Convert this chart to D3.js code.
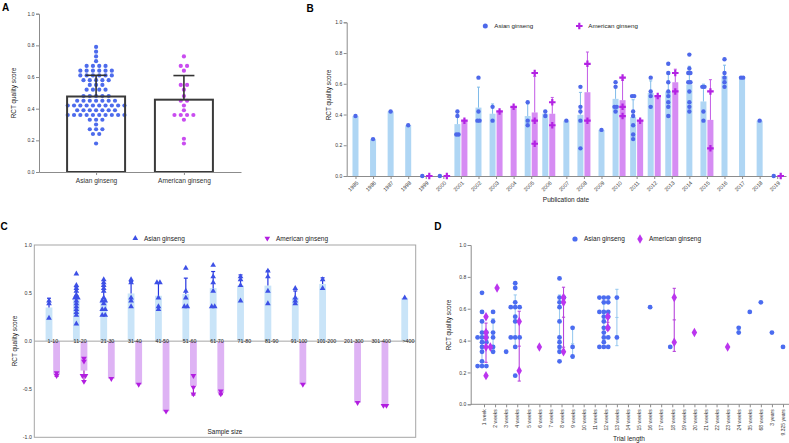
<!DOCTYPE html>
<html><head><meta charset="utf-8">
<script src="https://cdn.jsdelivr.net/npm/d3@7"></script>
<style>body{margin:0;background:#fff}svg{display:block}</style>
</head><body><svg id="c" width="789" height="443"></svg>
<script>
// ================= DATA =================
const ticksY = [0, 0.2, 0.4, 0.6, 0.8, 1.0];
const ticksC = [-1, -0.5, 0, 0.5, 1];

// Panel A
const groupsA = ["Asian ginseng", "American ginseng"];
const asianScoresA = [0.79,0.76,0.73,0.70,0.67,0.67,0.67,0.67,0.64,0.64,0.64,0.64,0.64,0.64,
  0.61,0.61,0.61,0.61,0.61,0.61,0.58,0.58,0.58,0.58,0.58,0.55,0.55,0.55,0.52,0.52,0.52,0.52,
  0.48,0.48,0.48,0.48,0.48,0.45,0.45,0.45,0.45,0.45,0.45,0.45,
  0.42,0.42,0.42,0.42,0.42,0.42,0.42,0.42,0.42,0.42,0.39,0.39,0.39,0.39,0.39,0.39,0.39,
  0.36,0.36,0.36,0.36,0.36,0.36,0.36,0.36,0.36,0.36,0.33,0.33,0.33,0.30,0.27,0.27,0.27,0.24,0.24,0.18];
const americanScoresA = [0.73,0.67,0.67,0.64,0.55,0.55,0.52,0.48,0.45,0.45,0.42,0.39,0.36,0.36,0.36,0.36,0.33,0.21,0.18];

// Panel B
const yearsB = ["1985","1986","1987","1998","1999","2000","2001","2002","2003","2004","2005","2006","2007",
  "2008","2009","2010","2011","2012","2013","2014","2015","2016","2017","2018","2019"];
const asianB = [[0.39],[0.24],[0.42],[0.33],[0],[0],[0.42,0.39,0.27,0.27],[0.64,0.42,0.36,0.36],[0.45,0.36],[],
  [0.48,0.36,0.33],[0.42,0.39],[0.36],[0.58,0.45,0.42,0.36,0.18],[0.30],[0.61,0.58,0.45,0.42,0.45],
  [0.52,0.52,0.42,0.39,0.33,0.27,0.24],[0.64,0.55,0.52,0.45],[0.73,0.67,0.61,0.55,0.52,0.48,0.45,0.39],
  [0.79,0.70,0.67,0.67,0.61,0.61,0.55,0.48,0.45,0.42],[0.58,0.58,0.42,0.36],[0.76,0.67,0.64,0.61,0.58],
  [0.64,0.64],[0.36],[0]];
const americanB = [[],[],[],[],[0],[0],[0.36],[],[0.42],[0.45],[0.67,0.36,0.21],[0.48,0.33],[],[0.73,0.36],[],
  [0.64,0.45,0.39],[0.36],[0.52],[0.67,0.55],[],[0.55,0.18],[],[],[],[0]];

// Panel C
const sizeC = ["1-10","11-20","21-30","31-40","41-50","51-60","61-70","71-80","81-90","91-100","101-200","201-300","301-400",">400"];
const asianC = [[0.42,0.39,0.24],[0.70,0.58,0.55,0.52,0.48,0.45,0.45,0.42,0.39,0.36,0.33,0.30,0.27,0.18],
  [0.64,0.61,0.58,0.55,0.52,0.45,0.42,0.42,0.39,0.33,0.33,0.27,0.27],[0.64,0.61,0.45,0.42,0.36],
  [0.61,0.61,0.45,0.36,0.33],[0.76,0.52,0.45,0.36,0.36],[0.79,0.67,0.61,0.52,0.36,0.36],[0.67,0.64,0.58,0.42],
  [0.73,0.67,0.52,0.39],[0.55,0.45,0.42,0.39],[0.64,0.55],[],[],[0.45]];
const americanC = [[0.36,0.33],[0.42,0.36,0.36,0.21,0.18],[0.39],[0.45],[0.73],[0.55,0.48,0.36],[0.55,0.52],
  [],[],[0.45],[],[0.64],[0.67,0.67],[]];

// Panel D
const lengthD = ["1 week","2 weeks","3 weeks","4 weeks","5 weeks","6 weeks","7 weeks","8 weeks","9 weeks","10 weeks",
  "11 weeks","12 weeks","13 weeks","14 weeks","15 weeks","16 weeks","17 weeks","18 weeks","19 weeks","20 weeks",
  "21 weeks","22 weeks","23 weeks","24 weeks","35 weeks","68 weeks","3 years","9.325 years"];
const asianD = [[0.70,0.58,0.52,0.45,0.45,0.42,0.42,0.42,0.39,0.39,0.36,0.33,0.27,0.24,0.24,0.24],
  [0.58,0.52,0.45,0.42,0.36,0.33],[0.33],[0.76,0.73,0.64,0.61,0.61,0.61,0.55,0.52,0.42,0.42,0.42,0.36,0.18],
  [],[],[],[0.79,0.67,0.67,0.64,0.61,0.52,0.42,0.39,0.36,0.33,0.27],[0.48,0.36,0.30],[],[],
  [0.67,0.67,0.67,0.64,0.64,0.58,0.58,0.58,0.55,0.55,0.52,0.48,0.48,0.45,0.42,0.42,0.39,0.36,0.36,0.36],
  [0.67,0.42],[],[],[0.61],[],[0.36],[],[],[],[],[],[0.48,0.45],[0.58],[0.64],[0.45],[0.36]];
const americanD = [[0.55,0.45,0.42,0.36,0.36,0.18],[0.73],[],[0.52,0.21],[],[0.36],[],[0.67,0.64,0.33],[],[],[],
  [0.55,0.48],[],[],[],[],[],[0.67,0.39],[],[0.45],[],[],[0.36],[],[],[],[],[]];

// ================= DRAWING =================
const FONT = '"Liberation Sans", Arial, Helvetica, sans-serif';
const AX = "#8c8c8c", TX = "#333";
const svg = d3.select("#c").attr("font-family", FONT);

function styleAxis(g, fs) {
  g.attr("font-family", FONT).attr("font-size", fs);
  g.select(".domain").attr("stroke", AX);
  g.selectAll(".tick line").attr("stroke", AX);
  g.selectAll(".tick text").attr("fill", TX);
}
function dupOffsets(vals, step) {
  const counts = new Map(), seen = new Map();
  vals.forEach(v => { const k = v.toFixed(2); counts.set(k, (counts.get(k) || 0) + 1); });
  return vals.map(v => { const k = v.toFixed(2); const i = seen.get(k) || 0; seen.set(k, i + 1); return (i - (counts.get(k) - 1) / 2) * step; });
}
function swarm(vals, y, r, step) {
  const placed = [];
  const cands = [0]; for (let i = 1; i < 14; i++) cands.push(i * step, -i * step);
  return vals.map(v => {
    const py = y(v); let off = 0;
    for (const o of cands) { if (placed.every(p => Math.hypot(p[0] - o, p[1] - py) >= 2 * r * 0.85)) { off = o; break; } }
    placed.push([off, py]); return off;
  });
}
const stats = vals => ({ m: vals.length ? d3.mean(vals) : 0, sd: vals.length > 1 ? d3.deviation(vals) : 0 });
function label(x, y, t, fs, opts = {}) {
  const e = svg.append("text").attr("x", x).attr("y", y).text(t).attr("font-size", fs).attr("fill", opts.fill || "#222");
  if (opts.bold) e.attr("font-weight", "bold");
  if (opts.anchor) e.attr("text-anchor", opts.anchor);
  if (opts.rot) e.attr("transform", `rotate(-90,${x},${y})`);
  return e;
}

// ---------- Panel A ----------
{
  const yA = d3.scaleLinear().domain([0, 1]).range([172, 13.7]);
  const xA = d3.scalePoint().domain(groupsA).range([39, 241]).padding(0.65);
  const bw = 58;
  const recs = groupsA.map((g, i) => { const vals = i ? americanScoresA : asianScoresA; return { g, vals, ...stats(vals), col: i ? "#c94cf0" : "#4d6bec" }; });
  const g = svg.append("g");
  g.selectAll("rect.f").data(recs).join("rect").attr("x", d => xA(d.g) - bw / 2).attr("width", bw)
    .attr("y", d => yA(d.m)).attr("height", d => yA(0) - yA(d.m)).attr("fill", "#fff");
  recs.forEach(r => {
    const off = dupOffsets(r.vals, 6.3);
    g.append("g").selectAll("circle").data(r.vals).join("circle")
      .attr("cx", (d, k) => xA(r.g) + off[k]).attr("cy", d => yA(d)).attr("r", 2.1).attr("fill", r.col);
  });
  g.selectAll("rect.s").data(recs).join("rect").attr("x", d => xA(d.g) - bw / 2).attr("width", bw)
    .attr("y", d => yA(d.m)).attr("height", d => yA(0) - yA(d.m)).attr("fill", "none").attr("stroke", "#3a3a3a").attr("stroke-width", 2);
  g.selectAll("line.e").data(recs).join("line").attr("x1", d => xA(d.g)).attr("x2", d => xA(d.g))
    .attr("y1", d => yA(d.m)).attr("y2", d => yA(d.m + d.sd)).attr("stroke", "#333").attr("stroke-width", 1.6);
  g.selectAll("line.c").data(recs).join("line").attr("x1", d => xA(d.g) - 10.5).attr("x2", d => xA(d.g) + 10.5)
    .attr("y1", d => yA(d.m + d.sd)).attr("y2", d => yA(d.m + d.sd)).attr("stroke", "#333").attr("stroke-width", 1.6);
  svg.append("g").attr("transform", "translate(39,0)")
    .call(d3.axisLeft(yA).tickValues(ticksY).tickFormat(d => d.toFixed(1)).tickSize(3).tickPadding(1.5)).call(styleAxis, 5);
  svg.append("g").attr("transform", "translate(0,172)")
    .call(d3.axisBottom(xA).tickSize(3).tickSizeOuter(0).tickPadding(3)).call(styleAxis, 6.6);
  label(16, 93, "RCT quality score", 6.4, { anchor: "middle", rot: true });
  label(2, 11, "A", 10, { bold: true, fill: "#000" });
}

// ---------- Panel B ----------
{
  const yB = d3.scaleLinear().domain([0, 1]).range([176, 22.3]);
  const xB = d3.scalePoint().domain(yearsB).range([346.7, 786]).padding(0.5);
  const bars = [], dots = [];
  yearsB.forEach((yr, i) => {
    const both = asianB[i].length > 0 && americanB[i].length > 0;
    [asianB[i], americanB[i]].forEach((vals, j) => {
      if (!vals.length) return;
      const cx = xB(yr) + (both ? (j ? 3.5 : -3.5) : 0);
      bars.push({ j, cx, ...stats(vals) });
      const off = dupOffsets(vals, 2.2);
      vals.forEach((v, k) => dots.push({ j, v, cx: cx + off[k] }));
    });
  });
  const barCol = ["#afd6f4", "#d68cf3"], errCol = ["#7fbbe9", "#c25ae6"], dotCol = ["#4d68ea", "#b322e3"];
  const g = svg.append("g");
  g.selectAll("rect").data(bars.filter(d => d.m > 0)).join("rect").attr("x", d => d.cx - 3).attr("width", 6)
    .attr("y", d => yB(d.m)).attr("height", d => yB(0) - yB(d.m)).attr("fill", d => barCol[d.j]);
  const eb = bars.filter(d => d.sd > 0);
  g.selectAll("line.e").data(eb).join("line").attr("x1", d => d.cx).attr("x2", d => d.cx)
    .attr("y1", d => yB(d.m)).attr("y2", d => yB(d.m + d.sd)).attr("stroke", d => errCol[d.j]).attr("stroke-width", 1);
  g.selectAll("line.c").data(eb).join("line").attr("x1", d => d.cx - 1.5).attr("x2", d => d.cx + 1.5)
    .attr("y1", d => yB(d.m + d.sd)).attr("y2", d => yB(d.m + d.sd)).attr("stroke", d => errCol[d.j]).attr("stroke-width", 1);
  svg.append("g").attr("transform", "translate(346.7,0)")
    .call(d3.axisLeft(yB).tickValues(ticksY).tickFormat(d => d.toFixed(1)).tickSize(3).tickPadding(1.5)).call(styleAxis, 5);
  const xa = svg.append("g").attr("transform", "translate(0,176)")
    .call(d3.axisBottom(xB).tickSize(3).tickSizeOuter(0)).call(styleAxis, 5.4);
  xa.selectAll(".tick text").attr("y", null).attr("dy", "0.35em").attr("text-anchor", "end")
    .attr("transform", "translate(1.5,6) rotate(-45)");
  const sym = d3.symbol().type(d3.symbolCross).size(24);
  g.raise();
  g.selectAll("circle").data(dots.filter(d => d.j === 0)).join("circle").attr("cx", d => d.cx).attr("cy", d => yB(d.v))
    .attr("r", 2.2).attr("fill", dotCol[0]);
  g.selectAll("path.a").data(dots.filter(d => d.j === 1)).join("path").attr("d", sym)
    .attr("transform", d => `translate(${d.cx},${yB(d.v)})`).attr("fill", dotCol[1]);
  // legend
  svg.append("circle").attr("cx", 485.3).attr("cy", 26).attr("r", 2.5).attr("fill", dotCol[0]);
  label(494.3, 28.2, "Asian ginseng", 6.2);
  svg.append("path").attr("d", sym).attr("transform", "translate(579.3,26)").attr("fill", dotCol[1]);
  label(588.3, 28.2, "American ginseng", 6.2);
  label(566, 202, "Publication date", 6.5, { anchor: "middle" });
  label(331, 95, "RCT quality score", 6.4, { anchor: "middle", rot: true });
  label(306.5, 12, "B", 10, { bold: true, fill: "#000" });
}

// ---------- Panel C ----------
{
  const L = 34.3, R = 415.7, T = 245, Bt = 437.3;
  const yC = d3.scaleLinear().domain([-1, 1]).range([Bt, T]);
  const xC = d3.scalePoint().domain(sizeC).range([L + 18.5, R - 7.2]);
  svg.append("rect").attr("x", L).attr("y", T).attr("width", R - L).attr("height", Bt - T)
    .attr("fill", "none").attr("stroke", "#a6a6a6").attr("stroke-width", 1);
  const bars = [], tris = [];
  sizeC.forEach((c, i) => {
    [asianC[i], americanC[i]].forEach((vals, j) => {
      if (!vals.length) return;
      const cx = xC(c) + (j ? 3.8 : -3.8);
      const sgn = j ? -1 : 1;
      bars.push({ j, cx, sgn, ...stats(vals) });
      const off = dupOffsets(vals, 3);
      vals.forEach((v, k) => tris.push({ j, cx: cx + off[k], v: sgn * v }));
    });
  });
  const barCol = ["#c9e4f8", "#deb3f4"], errCol = ["#2536e0", "#a61fc4"], triCol = ["#3d50e6", "#b21ee0"];
  const g = svg.append("g");
  g.selectAll("rect").data(bars).join("rect").attr("x", d => d.cx - 3.4).attr("width", 6.8)
    .attr("y", d => Math.min(yC(0), yC(d.sgn * d.m))).attr("height", d => Math.abs(yC(0) - yC(d.sgn * d.m)))
    .attr("fill", d => barCol[d.j]);
  const eb = bars.filter(d => d.sd > 0);
  g.selectAll("line.e").data(eb).join("line").attr("x1", d => d.cx).attr("x2", d => d.cx)
    .attr("y1", d => yC(d.sgn * d.m)).attr("y2", d => yC(d.sgn * (d.m + d.sd))).attr("stroke", d => errCol[d.j]).attr("stroke-width", 1.2);
  g.selectAll("line.c").data(eb).join("line").attr("x1", d => d.cx - 2).attr("x2", d => d.cx + 2)
    .attr("y1", d => yC(d.sgn * (d.m + d.sd))).attr("y2", d => yC(d.sgn * (d.m + d.sd))).attr("stroke", d => errCol[d.j]).attr("stroke-width", 1.2);
  const tri = d3.symbol().type(d3.symbolTriangle).size(14);
  g.selectAll("path").data(tris).join("path").attr("d", tri)
    .attr("transform", d => `translate(${d.cx},${yC(d.v)}) rotate(${d.j ? 180 : 0})`).attr("fill", d => triCol[d.j]);
  svg.append("g").attr("transform", `translate(${L},0)`)
    .call(d3.axisLeft(yC).tickValues(ticksC).tickFormat(d => d.toFixed(1)).tickSize(0).tickPadding(2.5)).call(styleAxis, 5.2)
    .select(".domain").remove();
  svg.append("line").attr("x1", L).attr("x2", R).attr("y1", yC(0)).attr("y2", yC(0)).attr("stroke", "#a6a6a6");
  svg.append("g").selectAll("text").data(sizeC).join("text").attr("x", d => xC(d)).attr("y", yC(0) + 1.9)
    .attr("text-anchor", "middle").attr("font-size", 5.3).attr("fill", "#222").text(d => d);
  // legend
  svg.append("path").attr("d", tri).attr("transform", "translate(135.3,238.3)").attr("fill", triCol[0]);
  label(144, 240.5, "Asian ginseng", 6.5);
  svg.append("path").attr("d", tri).attr("transform", "translate(267.3,238.3) rotate(180)").attr("fill", triCol[1]);
  label(276, 240.5, "American ginseng", 6.5);
  label(225, 433.5, "Sample size", 6.4, { anchor: "middle" });
  label(16.5, 341, "RCT quality score", 6.4, { anchor: "middle", rot: true });
  label(0.5, 229.5, "C", 10, { bold: true, fill: "#000" });
}

// ---------- Panel D ----------
{
  const L = 470.7, B0 = 404.3;
  const yD = d3.scaleLinear().domain([0, 1]).range([B0, 245]);
  const xD = d3.scalePoint().domain(lengthD).range([484, 783]);
  const grp = [], pts = [];
  lengthD.forEach((c, i) => {
    const both = asianD[i].length > 0 && americanD[i].length > 0;
    [asianD[i], americanD[i]].forEach((vals, j) => {
      if (!vals.length) return;
      const cx = xD(c) + (both ? (j ? 2 : -2) : 0);
      grp.push({ j, cx, ...stats(vals) });
      const off = swarm(vals, yD, 2.4, 2.2);
      vals.forEach((v, k) => pts.push({ j, cx: cx + off[k], v }));
    });
  });
  const errCol = ["#9ccbf0", "#b846dc"], dotCol = ["#4b6cf0", "#bb35ee"];
  svg.append("g").attr("transform", `translate(${L},0)`)
    .call(d3.axisLeft(yD).tickValues(ticksY).tickFormat(d => d.toFixed(1)).tickSize(3).tickPadding(1.5)).call(styleAxis, 5);
  svg.append("line").attr("x1", L).attr("x2", 789).attr("y1", B0).attr("y2", B0).attr("stroke", AX);
  const xa = svg.append("g").attr("transform", `translate(0,${B0})`)
    .call(d3.axisBottom(xD).tickSize(3).tickSizeOuter(0)).call(styleAxis, 5);
  xa.select(".domain").remove();
  xa.selectAll(".tick text").attr("y", null).attr("dy", "0.35em").attr("text-anchor", "end")
    .attr("transform", "translate(0,5) rotate(-90)");
  const g = svg.append("g");
  const eb = grp.filter(d => d.sd > 0);
  g.selectAll("line.e").data(eb).join("line").attr("x1", d => d.cx).attr("x2", d => d.cx)
    .attr("y1", d => yD(d.m - d.sd)).attr("y2", d => yD(d.m + d.sd)).attr("stroke", d => errCol[d.j]).attr("stroke-width", 1.1);
  [["lo", -1], ["hi", 1], ["mid", 0]].forEach(([n, s]) => {
    g.selectAll("line." + n).data(eb).join("line").attr("class", n).attr("x1", d => d.cx - 1.6).attr("x2", d => d.cx + 1.6)
      .attr("y1", d => yD(d.m + s * d.sd)).attr("y2", d => yD(d.m + s * d.sd)).attr("stroke", d => errCol[d.j]).attr("stroke-width", 1.1);
  });
  const dia = d3.symbol().type(d3.symbolDiamond).size(26);
  g.selectAll("circle").data(pts.filter(d => d.j === 0)).join("circle").attr("cx", d => d.cx).attr("cy", d => yD(d.v))
    .attr("r", 2.4).attr("fill", dotCol[0]);
  g.selectAll("path").data(pts.filter(d => d.j === 1)).join("path").attr("d", dia)
    .attr("transform", d => `translate(${d.cx},${yD(d.v)})`).attr("fill", dotCol[1]);
  svg.append("circle").attr("cx", 575).attr("cy", 239).attr("r", 2.6).attr("fill", dotCol[0]);
  label(584, 241.3, "Asian ginseng", 6.5);
  svg.append("path").attr("d", dia).attr("transform", "translate(640,239)").attr("fill", dotCol[1]);
  label(649, 241.3, "American ginseng", 6.5);
  label(629, 440.5, "Trial length", 6.5, { anchor: "middle" });
  label(451, 325, "RCT quality score", 6.4, { anchor: "middle", rot: true });
  label(434.3, 229.5, "D", 10, { bold: true, fill: "#000" });
}
</script></body></html>
